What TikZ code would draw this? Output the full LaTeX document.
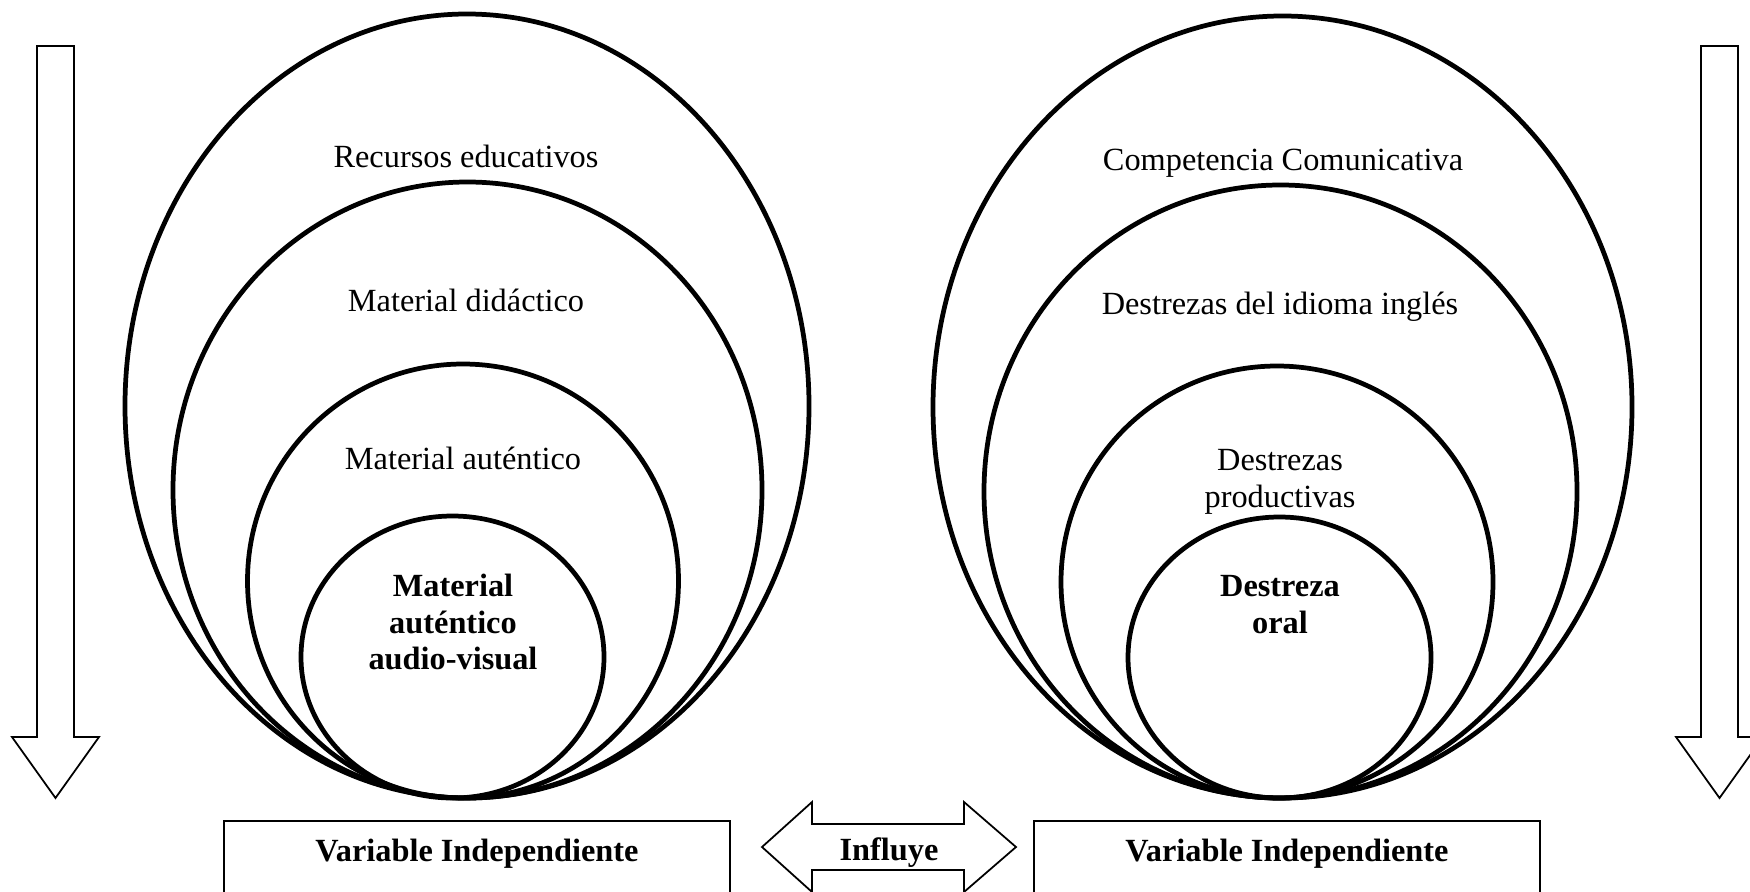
\documentclass[tikz,border=0pt]{standalone}
\usepackage{fontspec}
\setmainfont{Liberation Serif}
\usepackage{tikz}

\begin{document}
\begin{tikzpicture}[
    txt/.style={font=\fontsize{9.2}{10.5}\selectfont, inner sep=0pt, align=center},
    ring/.style={line width=1.35pt},
    blockarrow/.style={line width=0.5pt, line join=miter},
    varbox/.style={draw, line width=0.6pt, minimum width=5.06cm, inner xsep=0pt, inner ysep=0pt,
                   text height=0.40cm, text depth=0.6cm, anchor=north, font=\fontsize{9.2}{10.5}\selectfont\bfseries}
]
\useasboundingbox (0, 0) rectangle (17.5, 8.91);
\clip (0, 0) rectangle (17.5, 8.91);

% down arrows at both sides
\foreach \ax in {0.555, 17.195}
  \draw [blockarrow] (\ax-0.185, 8.45) -- (\ax+0.185, 8.45) -- (\ax+0.185, 1.54) -- (\ax+0.435, 1.54)
        -- (\ax, 0.93) -- (\ax-0.435, 1.54) -- (\ax-0.185, 1.54) -- cycle;

% left nest
\foreach \cx/\rx/\ry in {4.67/3.42/3.92, 4.675/2.945/3.08, 4.63/2.155/2.17, 4.525/1.515/1.41}
  \draw [ring] (\cx, 0.93+\ry) ellipse [x radius=\rx, y radius=\ry];

\node [txt] (recursos) at (4.66, 7.35) {Recursos educativos};
\node [txt] (didactico) at (4.66, 5.91) {Material didáctico};
\node [txt] (autentico) at (4.63, 4.33) {Material auténtico};
\node [txt, font=\fontsize{9.2}{10.5}\selectfont\bfseries] (audiovisual) at (4.53, 2.69) {Material\\auténtico\\audio-visual};

% right nest
\foreach \cx/\rx/\ry in {12.825/3.495/3.91, 12.805/2.965/3.065, 12.77/2.16/2.16, 12.795/1.515/1.405}
  \draw [ring] (\cx, 0.93+\ry) ellipse [x radius=\rx, y radius=\ry];

\node [txt] (competencia) at (12.83, 7.28) {Competencia Comunicativa};
\node [txt] (destrezas) at (12.80, 5.84) {Destrezas del idioma inglés};
\node [txt] (productivas) at (12.80, 4.09) {Destrezas\\productivas};
\node [txt, font=\fontsize{9.2}{10.5}\selectfont\bfseries] (oral) at (12.80, 2.86) {Destreza\\oral};

% variable boxes
\node [varbox] (varleft) at (4.77, 0.71) {Variable Independiente};
\node [varbox] (varright) at (12.87, 0.71) {Variable Independiente};

% double arrow between them
\draw [blockarrow] (7.62, 0.44) -- (8.12, 0.89) -- (8.12, 0.67) -- (9.64, 0.67) -- (9.64, 0.89)
      -- (10.16, 0.44) -- (9.64, -0.01) -- (9.64, 0.21) -- (8.12, 0.21) -- (8.12, -0.01) -- cycle;
\node [txt, font=\fontsize{9.2}{10.5}\selectfont\bfseries, anchor=base] (influye) at (8.89, 0.31) {Influye};
\end{tikzpicture}
\end{document}
